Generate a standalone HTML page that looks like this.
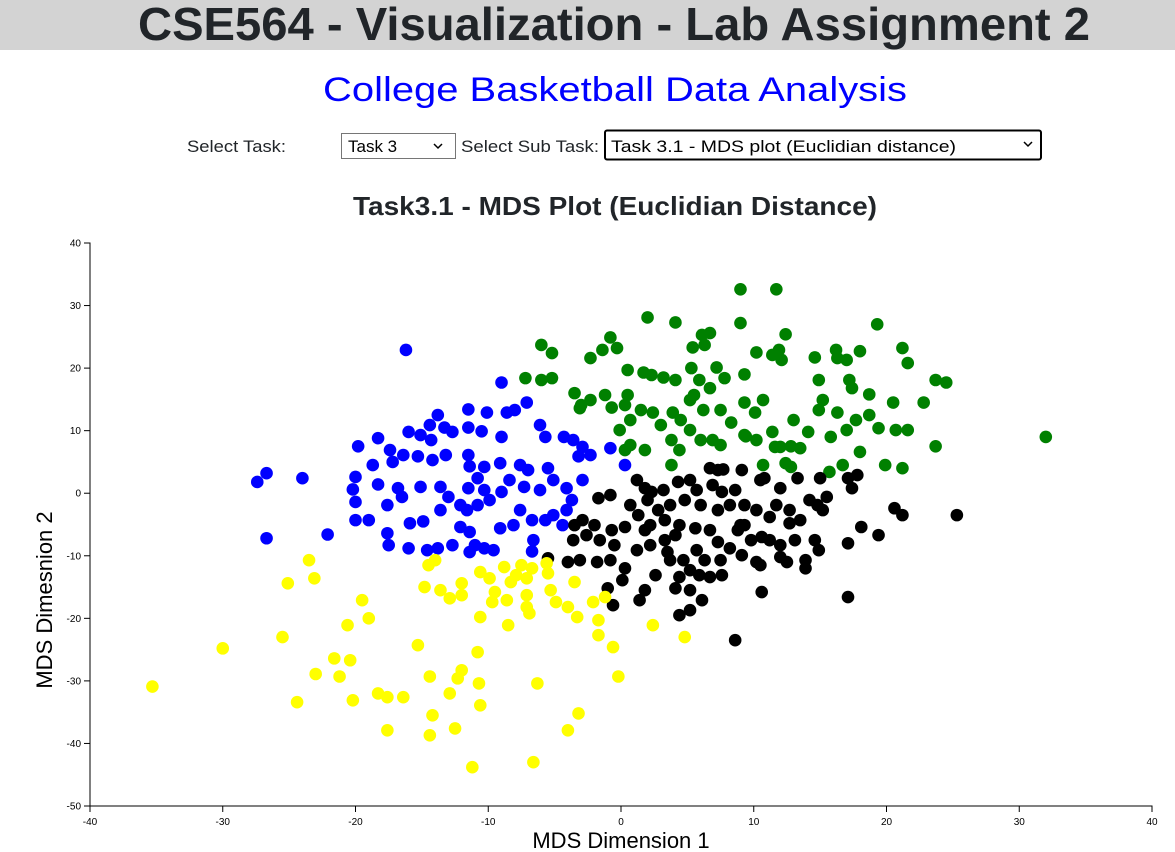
<!DOCTYPE html>
<html><head><meta charset="utf-8"><style>
html,body{margin:0;padding:0;background:#fff;}
svg{display:block;font-family:"Liberation Sans",sans-serif;}
</style></head><body>
<svg id="page" width="1175" height="852" viewBox="0 0 1175 852">
  <rect x="0" y="0" width="1175" height="50" fill="#d3d3d3"/>
  <text x="138" y="40" font-size="46" font-weight="bold" fill="#212529" textLength="952" lengthAdjust="spacingAndGlyphs">CSE564 - Visualization - Lab Assignment 2</text>
  <text x="323" y="101" font-size="34" fill="#0000ff" textLength="584" lengthAdjust="spacingAndGlyphs">College Basketball Data Analysis</text>
  <text x="187" y="152" font-size="17" fill="#212529" textLength="99" lengthAdjust="spacingAndGlyphs">Select Task:</text>
  <g>
    <rect x="341.5" y="133.5" width="114" height="25" fill="#fff" stroke="#767676" stroke-width="1"/>
    <text x="348" y="152" font-size="17" fill="#000">Task 3</text>
    <path d="M434 144 l4 4 l4 -4" fill="none" stroke="#000" stroke-width="1.5"/>
  </g>
  <text x="461" y="152" font-size="17" fill="#212529" textLength="138" lengthAdjust="spacingAndGlyphs">Select Sub Task:</text>
  <g>
    <rect x="605" y="130.5" width="436" height="29" rx="2" fill="#fff" stroke="#000" stroke-width="2"/>
    <text x="611" y="152" font-size="17" fill="#000" textLength="345" lengthAdjust="spacingAndGlyphs">Task 3.1 - MDS plot (Euclidian distance)</text>
    <path d="M1024 142 l4 4 l4 -4" fill="none" stroke="#000" stroke-width="1.5"/>
  </g>
  <text x="353" y="215" font-size="26" font-weight="bold" fill="#212529" textLength="524" lengthAdjust="spacingAndGlyphs">Task3.1 - MDS Plot (Euclidian Distance)</text>
  <g id="chart"></g>
</svg>
<script>
const xTicks=[-40,-30,-20,-10,0,10,20,30,40];
const yTicks=[40,30,20,10,0,-10,-20,-30,-40,-50];
const blueX=[-16.2,-9.0,-7.1,-11.5,-10.1,-8.6,-8.0,-13.8,-14.4,-13.3,-16.0,-15.1,-14.3,-12.7,-11.5,-10.5,-9.0,-6.1,-5.7,-4.3,-3.6,-2.9,-0.8,-19.8,-18.3,-17.4,-18.7,-17.2,-16.4,-15.3,-14.2,-13.2,-11.5,-11.4,-10.3,-9.1,-7.6,-7.0,-5.5,-3.2,-2.3,0.3,-20.0,-20.2,-18.3,-16.8,-16.5,-15.1,-13.6,-13.0,-11.5,-10.8,-10.3,-9.0,-8.4,-7.3,-6.1,-5.1,-4.1,-2.9,-27.4,-26.7,-24.0,-26.7,-22.1,-20.0,-20.0,-19.0,-17.6,-17.6,-17.5,-15.9,-14.9,-16.0,-14.6,-13.8,-13.6,-12.1,-11.6,-10.8,-12.1,-11.4,-11.0,-12.7,-10.3,-9.6,-11.4,-9.1,-8.1,-7.6,-6.7,-6.6,-5.7,-5.1,-4.4,-4.1,-3.7,-6.7,-9.9];
const blueY=[22.9,17.7,14.5,13.4,12.9,12.9,13.3,12.5,10.9,10.5,9.8,9.3,8.5,9.8,10.5,9.9,9.0,10.9,9.0,9.0,8.5,7.4,7.2,7.5,8.8,6.9,4.5,5.0,6.1,5.9,5.3,6.1,6.1,4.3,4.2,4.8,4.5,3.7,4.0,5.9,6.1,4.5,2.6,0.6,1.4,0.8,-0.6,1.0,1.0,-0.6,0.8,2.4,0.5,0.2,2.1,1.0,0.5,2.1,0.8,2.1,1.8,3.2,2.4,-7.2,-6.6,-1.4,-4.3,-4.3,-1.9,-6.4,-8.3,-4.8,-4.5,-8.8,-9.1,-8.8,-2.7,-1.9,-2.7,-1.9,-5.4,-6.2,-8.3,-8.3,-8.8,-9.1,-9.4,-5.6,-5.1,-2.7,-4.3,-7.5,-4.3,-3.5,-5.1,-2.7,-1.1,-9.3,-1.1];
const greenX=[9.0,11.7,2.0,4.1,9.0,-0.8,6.1,6.7,12.4,19.3,-6.0,6.3,5.4,-1.4,-0.3,10.2,11.9,16.2,21.2,21.6,-5.2,-7.2,-6.0,-5.2,-2.3,0.5,1.7,2.3,3.2,4.1,5.3,5.9,7.2,7.8,9.3,11.4,12.1,14.6,16.3,14.9,17.0,18.0,17.2,17.4,18.7,23.7,24.5,22.8,20.5,18.7,19.4,20.7,21.6,23.7,32.0,21.2,19.9,18.0,16.7,15.7,17.0,17.7,15.8,16.3,14.9,15.2,14.1,13.0,12.8,12.0,11.4,11.6,12.8,10.7,10.2,10.1,9.3,9.4,8.3,7.5,6.2,5.2,3.9,4.5,5.2,6.0,6.9,7.5,9.3,3.8,4.4,3.0,2.4,1.5,0.7,-0.1,0.5,0.3,-0.7,-1.2,-2.3,-3.1,-3.5,-3.0,1.8,0.3,0.7,3.8,10.7,13.5,12.4,6.7,5.5];
const greenY=[32.6,32.6,28.1,27.3,27.2,24.9,25.3,25.6,25.4,27.0,23.7,23.7,23.3,22.9,23.2,22.5,22.9,22.9,23.2,20.8,22.4,18.4,18.1,18.4,21.6,19.7,19.3,18.9,18.5,18.1,20.0,18.1,20.1,18.4,19.0,22.1,21.3,21.7,21.6,18.1,21.3,22.7,18.1,16.8,15.8,18.1,17.7,14.5,14.5,12.5,10.4,10.1,10.1,7.5,9.0,4.0,4.5,6.6,4.5,3.4,10.1,11.7,9.0,12.9,13.3,14.9,9.8,11.7,7.5,7.4,9.8,7.4,4.2,4.5,8.5,12.9,14.5,9.1,11.3,13.3,13.3,14.9,12.9,11.7,10.1,8.5,8.5,7.7,9.3,8.5,6.9,10.9,12.9,13.3,11.7,10.1,15.7,14.1,13.7,15.7,14.9,13.6,16.0,14.1,6.9,6.9,7.7,4.5,14.9,7.2,4.8,16.8,15.7];
const blackX=[6.7,7.3,7.7,9.1,17.1,17.8,17.4,1.2,1.8,2.3,3.2,4.3,5.2,5.7,6.9,7.6,8.6,10.5,10.8,12.0,13.3,14.2,14.8,15.2,15.5,20.6,21.2,25.3,18.1,19.4,17.1,17.1,8.6,10.6,-1.7,-0.8,0.7,2.0,2.8,3.7,4.8,6.0,7.3,8.2,9.3,10.2,11.7,12.7,13.5,12.7,11.2,9.3,8.8,9.8,10.6,11.2,12.0,13.1,14.6,14.9,13.9,12.5,12.0,13.9,10.5,9.1,8.2,7.3,6.7,5.6,4.4,3.3,2.2,1.3,0.3,-0.7,-2.0,-2.9,-3.5,-2.6,-1.6,-0.5,1.2,2.2,3.5,3.7,4.7,5.7,6.3,7.5,7.6,6.7,5.9,5.2,4.4,4.1,5.2,6.1,5.2,4.4,1.8,0.1,-1.0,-0.6,1.4,-4.0,-3.1,-1.8,-0.8,0.3,2.6,1.8,9.0,15.0,10.2,3.3,-3.6,-5.5,4.1];
const blackY=[4.0,3.7,3.8,3.7,2.4,2.9,0.8,2.1,0.8,0.2,0.5,1.8,2.1,0.5,1.3,0.2,0.5,2.1,2.4,0.8,2.4,-1.1,-1.9,-2.7,-0.6,-2.4,-3.5,-3.5,-5.4,-6.7,-8.0,-16.6,-23.5,-15.8,-0.8,-0.3,-1.9,-1.1,-2.7,-1.9,-1.1,-1.9,-2.7,-1.9,-1.9,-2.7,-1.9,-2.7,-4.3,-4.8,-3.8,-5.1,-5.9,-7.5,-7.0,-7.5,-8.3,-7.5,-7.5,-9.1,-10.7,-11.0,-10.2,-12.0,-11.5,-9.9,-8.8,-7.8,-5.9,-5.6,-5.1,-4.3,-5.1,-3.5,-5.4,-5.9,-5.1,-4.3,-5.1,-6.7,-7.5,-8.3,-9.1,-8.3,-9.4,-10.7,-10.7,-9.1,-10.7,-10.7,-13.1,-13.4,-13.1,-12.3,-13.4,-15.2,-15.5,-17.1,-18.7,-19.5,-15.5,-13.9,-15.2,-17.9,-17.1,-11.0,-10.7,-11.0,-10.7,-12.0,-13.1,-5.9,-5.1,2.4,-11.0,-7.5,-7.5,-10.4,-6.7];
const yellowX=[-35.3,-30.0,-25.5,-24.4,-25.1,-23.5,-23.1,-23.0,-21.6,-21.2,-20.4,-20.6,-20.2,-19.5,-19.0,-18.3,-17.6,-17.6,-16.4,-15.3,-14.4,-14.2,-14.4,-14.5,-14.0,-14.8,-13.6,-12.9,-12.5,-12.9,-12.3,-12.0,-11.2,-10.6,-10.7,-10.8,-12.0,-12.0,-10.6,-9.9,-10.6,-9.5,-9.7,-8.6,-8.5,-8.8,-8.3,-7.9,-7.5,-7.1,-7.1,-6.7,-7.1,-6.9,-5.6,-5.5,-5.3,-4.9,-4.0,-3.5,-3.3,-2.1,-1.7,-1.7,-1.2,-0.6,-0.2,-6.3,-6.6,-3.2,-4.0,2.4,4.8];
const yellowY=[-30.9,-24.8,-23.0,-33.4,-14.4,-10.7,-13.6,-28.9,-26.4,-29.3,-26.7,-21.1,-33.1,-17.1,-20.0,-32.0,-32.6,-37.9,-32.6,-24.3,-29.3,-35.5,-38.7,-11.5,-10.7,-15.0,-15.5,-16.8,-37.6,-32.0,-29.6,-28.3,-43.8,-33.9,-30.4,-25.4,-14.4,-16.3,-12.6,-13.6,-19.8,-15.8,-17.4,-17.1,-21.1,-11.8,-14.2,-13.1,-11.5,-13.6,-16.3,-12.0,-18.2,-19.2,-11.2,-12.8,-15.5,-17.4,-18.2,-14.2,-19.8,-17.4,-20.3,-22.7,-16.6,-24.6,-29.3,-30.4,-43.0,-35.2,-37.9,-21.1,-23.0];

const NS='http://www.w3.org/2000/svg';
const chart=document.getElementById('chart');
const X0=90,X1=1152,Y0=806,Y1=243;
const xMin=-40,xMax=40,yMin=-50,yMax=40;
function sx(v){return X0+(v-xMin)/(xMax-xMin)*(X1-X0);}
function sy(v){return Y0-(v-yMin)/(yMax-yMin)*(Y0-Y1);}
function mk(tag,attrs,parent){const e=document.createElementNS(NS,tag);for(const k in attrs)e.setAttribute(k,attrs[k]);(parent||chart).appendChild(e);return e;}

const pts=mk('g',{});


function drawSeries(xs,ys,color,name){
  const g=mk('g',{},pts);
  
  
  for(let i=0;i<xs.length;i++){
    const c=mk('circle',{cx:sx(xs[i]),cy:sy(ys[i]),r:6.3,fill:color},g);
    
    
  }
}
drawSeries(blueX,blueY,'#0000ff','blue');
drawSeries(greenX,greenY,'#008000','green');
drawSeries(blackX,blackY,'#000000','black');
drawSeries(yellowX,yellowY,'#ffff00','yellow');

const xa=mk('g',{});


mk('path',{d:`M${X0},${Y0+6}V${Y0}H${X1}V${Y0+6}`,fill:'none',stroke:'#000'},xa);
xTicks.forEach(t=>{
  mk('line',{x1:sx(t),x2:sx(t),y1:Y0,y2:Y0+6,stroke:'#000'},xa);
  const tx=mk('text',{x:sx(t),y:Y0+19,'font-size':10,'text-anchor':'middle',fill:'#000'},xa);
  tx.textContent=t;
  
  
});
const ya=mk('g',{});


mk('path',{d:`M${X0-6},${Y1}H${X0}V${Y0}H${X0-6}`,fill:'none',stroke:'#000'},ya);
yTicks.forEach(t=>{
  mk('line',{x1:X0-6,x2:X0,y1:sy(t),y2:sy(t),stroke:'#000'},ya);
  const tx=mk('text',{x:X0-9,y:sy(t)+3.5,'font-size':10,'text-anchor':'end',fill:'#000'},ya);
  tx.textContent=t;
  
  
});
const xl=mk('text',{x:621,y:848,'font-size':22,'text-anchor':'middle',fill:'#000'});
xl.textContent='MDS Dimension 1';


const yl=mk('text',{x:0,y:0,'font-size':22,'text-anchor':'middle',fill:'#000',transform:'translate(52,600) rotate(-90)'});
yl.textContent='MDS Dimesnion 2';


</script>
</body></html>
